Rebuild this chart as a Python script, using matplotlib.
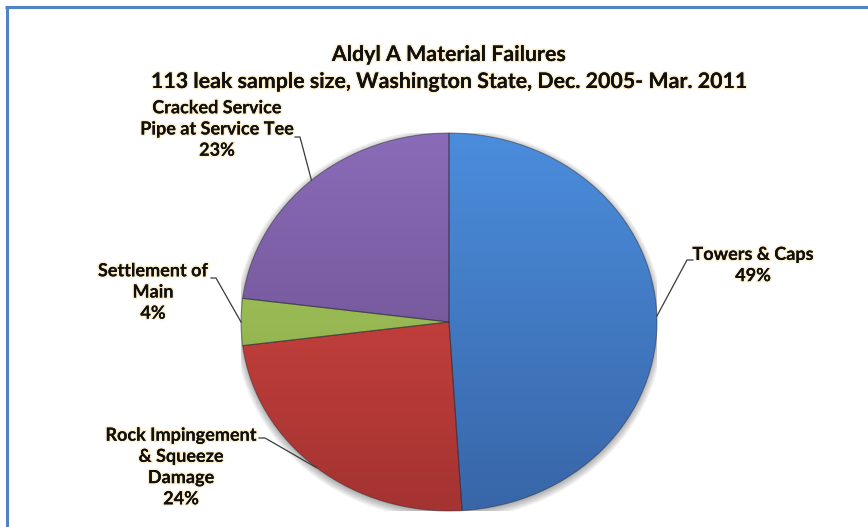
import numpy as np
import matplotlib
matplotlib.use("Agg")
import matplotlib.pyplot as plt
from matplotlib.lines import Line2D
from matplotlib.patches import Ellipse
import matplotlib.patheffects as pe
from matplotlib.colors import to_rgb

# ---- data ----
categories = ["Towers & Caps", "Rock Impingement\n& Squeeze\nDamage", "Settlement of\nMain",
              "Cracked Service\nPipe at Service Tee"]
values = [49, 24, 4, 23]
title_lines = ["Aldyl A Material Failures",
               "113 leak sample size, Washington State, Dec. 2005- Mar. 2011"]

# ---- styles ----
top_colors = ["#4b8ddc", "#dc4a45", "#a8cc60", "#8a6bb8"]
bot_colors = ["#3866a8", "#a43331", "#86a444", "#664a86"]
FONT = ["Lato", "DejaVu Sans"]

W, H = 868, 527
fig = plt.figure(figsize=(W / 100, H / 100), dpi=100)
fig.patch.set_facecolor("white")

# pie area in pixels
CX, CY, RX, RY = 449, 322, 208, 189
ax = fig.add_axes([(CX - RX) / W, 1 - (CY + RY) / H, 2 * RX / W, 2 * RY / H])

def pd(px, py):
    """pixel (from top-left) -> pie axes data coords"""
    return (px - CX) / RX, (CY - py) / RY

# soft shadow
for k in range(6):
    ax.add_patch(Ellipse((0.0, -0.012), 2 + 0.012 * k, 2 + 0.014 * k, facecolor="#000000",
                         alpha=0.05, edgecolor="none", zorder=0))

wedges, _ = ax.pie(values, startangle=90, counterclock=False, radius=1,
                   colors=top_colors, wedgeprops=dict(edgecolor="none"))
ax.set_aspect("auto")
ax.set_xlim(-1, 1)
ax.set_ylim(-1, 1)
ax.axis("off")

n = 256
tgrid = np.linspace(0, 1, n)[:, None]
for w, ct, cb in zip(wedges, top_colors, bot_colors):
    ct, cb = np.array(to_rgb(ct)), np.array(to_rgb(cb))
    img = (ct[None, None, :] * (1 - tgrid[:, :, None]) + cb[None, None, :] * tgrid[:, :, None])
    img = np.repeat(img, 2, axis=1)
    im = ax.imshow(img, extent=[-1, 1, -1, 1], aspect="auto", origin="upper", zorder=2,
                   interpolation="bilinear")
    im.set_clip_path(w)
    w.set_facecolor("none")
    w.set_edgecolor((0.15, 0.15, 0.2, 0.45))
    w.set_linewidth(0.8)
    w.set_zorder(3)
ax.set_xlim(-1, 1)
ax.set_ylim(-1, 1)

# ---- labels & leader lines ----
total = float(sum(values))
cum = np.cumsum(values)
mids = 360.0 * (cum - np.array(values) / 2.0) / total
# label layout: (text centre x px, block centre y px, elbow px, text-side px)
layout = [
    (753, 265, (687, 260), (693, 260)),
    (181, 467, (265, 438), (259, 438)),
    (153, 292, (216, 278), (211, 278)),
    (217, 129, (300, 137), (295, 137)),
]
glow = [pe.withStroke(linewidth=2.2, foreground="#fbe3a8", alpha=0.55), pe.Normal()]
for cat, v, m, (tx, ty, elb, tside) in zip(categories, values, mids, layout):
    ex, ey = np.sin(np.radians(m)), np.cos(np.radians(m))
    e1 = pd(*elb)
    e2 = pd(*tside)
    ax.plot([ex, e1[0], e2[0]], [ey, e1[1], e2[1]], color="#3a3a3a", lw=0.9,
            clip_on=False, zorder=5)
    fig.text(tx / W, 1 - ty / H, f"{cat}\n{v}%", ha="center", va="center",
             fontsize=13, fontweight="bold", family=FONT, color="#111111",
             linespacing=1.3, path_effects=glow)

# ---- title ----
fig.text(CX / W, 1 - 55 / H, title_lines[0], ha="center", va="center", fontsize=15.4,
         fontweight="bold", family=FONT, color="#111111", path_effects=glow)
fig.text(CX / W, 1 - 82 / H, title_lines[1], ha="center", va="center", fontsize=15.4,
         fontweight="bold", family=FONT, color="#111111", path_effects=glow)

# ---- frame ----
fc = "#5284c4"
fig.add_artist(Line2D([6.5 / W, 6.5 / W], [0, 1 - 5.5 / H], color=fc, lw=2.2,
                      solid_capstyle="butt"))
fig.add_artist(Line2D([5.4 / W, 1], [1 - 6.5 / H, 1 - 6.5 / H], color=fc, lw=2.2,
                      solid_capstyle="butt"))

fig.savefig("out.png", dpi=100)
